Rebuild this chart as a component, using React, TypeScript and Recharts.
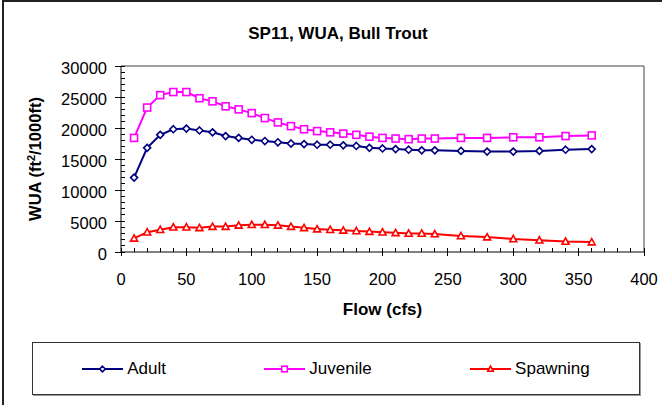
import React from 'react'
import { LineChart, Line, XAxis, YAxis, ReferenceLine } from 'recharts'

// flow (cfs) and WUA values
const flow = [10, 20, 30, 40, 50, 60, 70, 80, 90, 100, 110, 120, 130, 140, 150, 160, 170, 180, 190, 200, 210, 220, 230, 240, 260, 280, 300, 320, 340, 360]
const adult = [12000, 16800, 18900, 19800, 19900, 19600, 19300, 18700, 18400, 18100, 17900, 17700, 17500, 17400, 17300, 17300, 17200, 17100, 16800, 16700, 16600, 16500, 16400, 16400, 16300, 16200, 16200, 16300, 16500, 16600]
const juvenile = [18400, 23300, 25300, 25800, 25800, 24800, 24300, 23500, 23000, 22400, 21600, 20900, 20300, 19800, 19500, 19300, 19100, 18900, 18600, 18400, 18300, 18200, 18300, 18300, 18400, 18400, 18500, 18500, 18700, 18800]
const spawning = [2200, 3200, 3600, 4000, 4000, 3900, 4100, 4100, 4300, 4400, 4400, 4300, 4100, 3900, 3700, 3600, 3500, 3400, 3300, 3200, 3100, 3000, 3000, 2900, 2600, 2400, 2100, 1900, 1700, 1600]

const xLabels = [0, 50, 100, 150, 200, 250, 300, 350, 400]
const yLabels = [0, 5000, 10000, 15000, 20000, 25000, 30000]

// minor ticks every 10 cfs / every 1000
const xTicks = Array.from({ length: 41 }, (_, i) => i * 10)
const yTicks = Array.from({ length: 31 }, (_, i) => i * 1000)

const series = [
  { name: 'Adult', color: '#000080', shape: 'diamond' },
  { name: 'Juvenile', color: '#FF00FF', shape: 'square' },
  { name: 'Spawning', color: '#FF0000', shape: 'triangle' },
]

const rows = flow.map((f, i) => ({
  flow: f,
  Adult: adult[i],
  Juvenile: juvenile[i],
  Spawning: spawning[i],
}))

const FONT = '"Liberation Sans", Arial, Helvetica, sans-serif'

function Marker({ cx, cy, shape, color, r = 3.5 }: any) {
  if (cx == null || cy == null) return null
  if (shape === 'diamond') {
    return (
      <polygon
        points={`${cx},${cy - r} ${cx + r},${cy} ${cx},${cy + r} ${cx - r},${cy}`}
        fill="#fff"
        stroke={color}
        strokeWidth={1.6}
      />
    )
  }
  if (shape === 'square') {
    return <rect x={cx - r} y={cy - r} width={r * 2} height={r * 2} fill="#fff" stroke={color} strokeWidth={1.6} />
  }
  return (
    <polygon
      points={`${cx},${cy - r} ${cx + r},${cy + r * 0.8} ${cx - r},${cy + r * 0.8}`}
      fill="#fff"
      stroke={color}
      strokeWidth={1.6}
    />
  )
}

function XTick({ x, y, payload }: any) {
  const v = payload.value
  const major = xLabels.includes(v)
  return (
    <g>
      <line x1={x} x2={x} y1={y - 4} y2={major ? y + 4 : y} stroke="#000" shapeRendering="crispEdges" />
      {major && (
        <text x={x} y={y + 33} textAnchor="middle" fontSize={16.5} fontFamily={FONT} fill="#000">
          {v}
        </text>
      )}
    </g>
  )
}

function YTick({ x, y, payload }: any) {
  const v = payload.value
  const major = yLabels.includes(v)
  return (
    <g>
      <line x1={major ? x - 6 : x} x2={x + 4} y1={y} y2={y} stroke="#000" shapeRendering="crispEdges" />
      {major && (
        <text x={x - 14} y={y + 8} textAnchor="end" fontSize={16.5} fontFamily={FONT} fill="#000">
          {v}
        </text>
      )}
    </g>
  )
}

function YTitle(props: any) {
  const vb = props.viewBox || {}
  const cy = vb.height ? vb.y + vb.height / 2 : 159
  return (
    <text
      transform={`translate(41, ${cy}) rotate(-90)`}
      textAnchor="middle"
      fontSize={16.5}
      fontWeight="bold"
      fontFamily={FONT}
      fill="#000"
    >
      WUA (ft<tspan dy={-6} fontSize={11}>2</tspan>
      <tspan dy={6}>/1000ft)</tspan>
    </text>
  )
}

export default function App() {
  return (
    <div style={{ position: 'absolute', left: 0, top: 0, width: 662, height: 405, background: '#fff', fontFamily: FONT }}>
      <div
        style={{
          position: 'absolute',
          left: 2,
          top: 0,
          width: 660,
          height: 405,
          borderTop: '2px solid #222',
          borderLeft: '2px solid #222',
          boxSizing: 'border-box',
        }}
      />
      <div
        style={{
          position: 'absolute',
          left: 0,
          top: 25,
          width: 676,
          textAlign: 'center',
          fontSize: 17,
          lineHeight: '17px',
          fontWeight: 'bold',
          color: '#000',
        }}
      >
        SP11, WUA, Bull Trout
      </div>

      <div style={{ position: 'absolute', left: 0, top: 0 }}>
        <LineChart width={662} height={405} data={rows} margin={{ top: 66, right: 18, bottom: 0, left: 0 }}>
          <XAxis
            type="number"
            dataKey="flow"
            domain={[0, 400]}
            ticks={xTicks}
            interval={0}
            tickSize={0}
            tickMargin={0}
            tickLine={false}
            tick={XTick}
            axisLine={{ stroke: '#000' }}
            height={153}
            label={{
              value: 'Flow (cfs)',
              position: 'insideTop',
              offset: 51,
              style: { fontSize: 17, fontWeight: 'bold', fontFamily: FONT, fill: '#000' },
            }}
          />
          <YAxis
            type="number"
            domain={[0, 30000]}
            ticks={yTicks}
            interval={0}
            tickSize={0}
            tickMargin={0}
            tickLine={false}
            tick={YTick}
            axisLine={{ stroke: '#000' }}
            width={121}
            label={YTitle}
          />
          <ReferenceLine y={30000} stroke="#808080" strokeWidth={1.5} />
          <ReferenceLine x={400} stroke="#808080" strokeWidth={1.5} />
          {series.map((s) => (
            <Line
              key={s.name}
              type="linear"
              dataKey={s.name}
              stroke={s.color}
              strokeWidth={2}
              dot={(p: any) => <Marker key={`${s.name}-${p.index}`} cx={p.cx} cy={p.cy} shape={s.shape} color={s.color} />}
              activeDot={false}
              isAnimationActive={false}
            />
          ))}
        </LineChart>
      </div>

      <div
        style={{
          position: 'absolute',
          left: 32,
          top: 342,
          width: 608,
          height: 53,
          boxSizing: 'border-box',
          border: '1px solid #333',
          boxShadow: '1px 1px 0 #999',
          display: 'flex',
          justifyContent: 'space-around',
          alignItems: 'center',
          fontSize: 17,
          color: '#000',
        }}
      >
        {series.map((s) => (
          <div key={s.name} style={{ display: 'flex', alignItems: 'center' }}>
            <svg width={41} height={10}>
              <line x1={0} x2={41} y1={5} y2={5} stroke={s.color} strokeWidth={2} />
              <Marker cx={20.5} cy={5} shape={s.shape} color={s.color} r={2.8} />
            </svg>
            <span style={{ marginLeft: 4 }}>{s.name}</span>
          </div>
        ))}
      </div>
    </div>
  )
}
